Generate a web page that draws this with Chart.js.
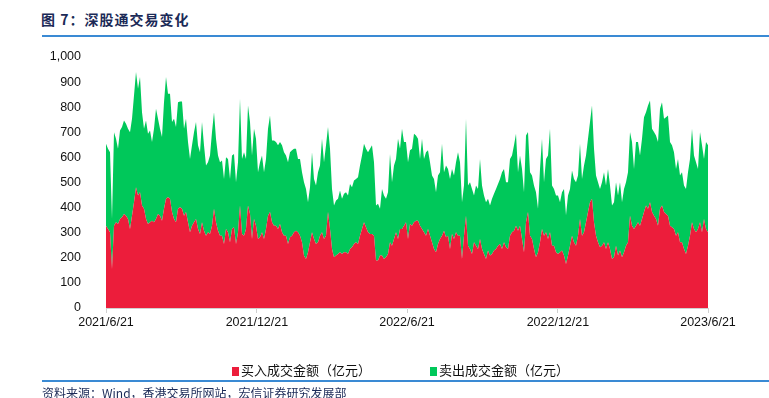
<!DOCTYPE html>
<html>
<head>
<meta charset="utf-8">
<script src="https://cdn.jsdelivr.net/npm/chart.js@4/dist/chart.umd.min.js"></script>
<style>
  body { margin: 0; background: #fff; }
  #wrap { position: relative; width: 769px; height: 398px; overflow: hidden; font-family: "Noto Sans CJK SC", sans-serif; }
  #c { position: absolute; left: 0; top: 0; }
  .title { position: absolute; left: 41px; top: 9px; font-size: 14px; font-weight: bold; color: #1b2a57; letter-spacing: 1px; }
  .rule { position: absolute; left: 42px; width: 727px; height: 2px; background: #3a8ad4; }
  .legend { position: absolute; top: 360px; font-size: 13px; color: #111; }
  .legend span.box { display: inline-block; width: 7px; height: 9px; margin-right: 2px; vertical-align: -1px; }
  .source { position: absolute; left: 42px; top: 384px; font-size: 12px; color: #1b2a57; }
</style>
</head>
<body>
<div id="wrap">
  <div class="title">图 7：深股通交易变化</div>
  <div class="rule" style="top:35px"></div>
  <canvas id="c" width="769" height="398"></canvas>
  <div class="legend" style="left:232px"><span class="box" style="background:#ec1d3b"></span>买入成交金额（亿元）</div>
  <div class="legend" style="left:430px"><span class="box" style="background:#00c85a"></span>卖出成交金额（亿元）</div>
  <div class="rule" style="top:380px"></div>
  <div class="source">资料来源：Wind，香港交易所网站，宏信证券研究发展部</div>
</div>
<script>
// x轴刻度
var tickLabels = ['2021/6/21', '2021/12/21', '2022/6/21', '2022/12/21', '2023/6/21'];
var tickDays = [0, 183, 365, 548, 730];

// 买入成交金额（亿元）
var buyVals = [
  328,315,302,155,328,342,335,355,362,375,368,355,315,368,421,481,448,461,408,395,
  355,335,342,348,342,355,375,368,348,395,435,441,435,382,355,342,395,401,395,368,
  382,342,302,328,342,355,315,295,342,308,288,
  302,295,328,395,342,308,288,288,255,315,302,262,315,322,255,302,408,295,288,315,
  408,375,275,355,328,275,282,302,275,315,368,382,342,328,328,315,335,302,288,288,
  255,282,288,302,308,302,288,262,208,195,
  222,262,302,275,255,262,288,302,275,288,382,315,235,202,209,215,222,215,222,222,
  215,235,242,255,262,255,288,315,342,322,302,295,295,288,189,189,209,209,195,202,
  215,262,248,275,302,275,315,315,328,342,
  275,335,328,342,348,348,328,315,302,288,315,288,262,235,222,255,275,288,308,282,
  288,235,295,275,302,288,288,195,288,368,248,235,215,262,248,235,275,235,215,195,
  229,209,215,229,235,248,255,235,262,242,
  235,288,302,308,328,308,328,275,222,342,382,288,275,235,202,222,262,315,288,302,
  275,302,248,248,222,215,222,229,209,175,209,248,288,262,248,288,355,288,302,342,
  382,421,435,342,288,262,242,248,262,235,
  262,235,195,202,248,209,229,202,222,248,262,368,328,315,328,342,328,355,382,408,
  395,421,382,368,355,328,395,408,382,375,368,328,322,315,288,302,262,262,235,215,
  248,288,342,315,302,315,342,302,355,315,302
];

// 卖出成交金额（亿元）
var sellVals = [
  326,319,319,200,372,332,299,352,359,372,366,359,385,386,426,459,426,459,372,319,
  392,359,365,313,372,439,379,346,333,425,485,413,419,359,399,379,425,422,428,346,
  372,319,292,320,358,386,333,326,399,340,280,
  279,313,373,385,332,300,293,300,259,286,292,252,293,292,246,279,426,299,333,279,
  399,366,333,359,346,266,299,306,266,279,346,385,325,339,333,333,326,346,333,320,
  326,339,340,332,326,292,306,279,293,279,
  199,219,319,239,233,279,280,372,306,360,339,319,239,206,219,220,246,220,233,239,
  233,259,239,253,252,266,280,293,312,312,319,339,353,293,219,226,186,265,253,233,
  246,352,253,293,292,399,319,399,333,319,
  306,293,306,352,339,326,266,359,292,333,313,293,266,279,239,273,266,366,233,286,
  266,279,259,253,279,333,293,226,200,386,240,266,259,186,240,239,319,253,233,226,
  206,199,220,226,239,246,259,306,292,259,
  266,306,306,340,366,233,280,279,239,345,319,253,253,253,259,173,292,359,213,292,
  333,412,240,226,226,233,199,232,265,195,239,226,260,252,253,240,299,226,266,266,
  292,320,372,292,240,239,232,253,279,253,
  292,253,213,219,253,239,272,219,252,253,279,333,333,239,333,319,280,319,378,372,
  412,406,332,333,332,333,399,412,372,385,399,333,326,306,266,292,266,279,253,259,
  293,306,372,293,279,239,359,346,239,346,346
];

// 样本按时间均匀分布在 2021/6/21 ~ 2023/6/21 之间
var n = buyVals.length;
var buyPts = [], sellPts = [];
for (var i = 0; i < n; i++) {
    var d = i * 730 / (n - 1);
    buyPts.push({ x: d, y: buyVals[i] });
    sellPts.push({ x: d, y: sellVals[i] });
}

var ctx = document.getElementById('c').getContext('2d');
new Chart(ctx, {
    type: 'line',
    data: {
        datasets: [
            {
                label: '买入成交金额（亿元）',
                data: buyPts,
                backgroundColor: '#ec1d3b',
                borderWidth: 0,
                pointRadius: 0,
                fill: 'origin'
            },
            {
                label: '卖出成交金额（亿元）',
                data: sellPts,
                backgroundColor: '#00c85a',
                borderWidth: 0,
                pointRadius: 0,
                fill: '-1'
            }
        ]
    },
    options: {
        responsive: false,
        animation: false,
        layout: { padding: { left: 0, right: 61, top: 57, bottom: 0 } },
        plugins: {
            legend: { display: false },
            tooltip: { enabled: false }
        },
        scales: {
            x: {
                type: 'linear',
                min: 0,
                max: 730,
                afterBuildTicks: function (scale) {
                    scale.ticks = tickDays.map(function (v) { return { value: v }; });
                },
                afterFit: function (scale) { scale.height = 90; },
                ticks: {
                    autoSkip: false,
                    maxRotation: 0,
                    padding: 2,
                    color: '#111',
                    font: { family: 'Liberation Sans', size: 12.5 },
                    callback: function (v) { return tickLabels[tickDays.indexOf(v)]; }
                },
                grid: { drawOnChartArea: false, tickLength: 5, color: '#d0d0d0' },
                border: { color: '#d0d0d0' }
            },
            y: {
                stacked: true,
                min: 0,
                max: 1000,
                afterFit: function (scale) { scale.width = 106; },
                ticks: {
                    stepSize: 100,
                    padding: 17,
                    color: '#111',
                    font: { family: 'Liberation Sans', size: 12.5 },
                    callback: function (v) { return v.toLocaleString('en-US'); }
                },
                grid: { display: false },
                border: { display: false }
            }
        }
    }
});
</script>
</body>
</html>
